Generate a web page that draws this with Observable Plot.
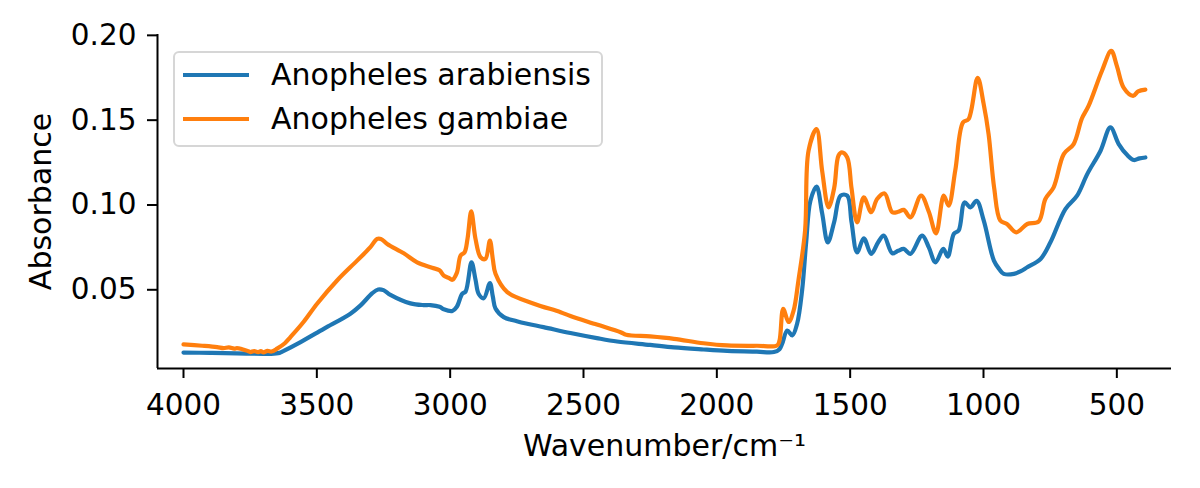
<!DOCTYPE html>
<html>
<head>
<meta charset="utf-8">
<script src="https://cdn.jsdelivr.net/npm/d3@7"></script>
<script src="https://cdn.jsdelivr.net/npm/@observablehq/plot@0.6"></script>
<style>
  html, body { margin: 0; padding: 0; background: #fff; }
  #wrap { position: relative; width: 1200px; height: 488px; font-family: "DejaVu Sans", sans-serif; }
  #legend { position: absolute; left: 173px; top: 51px; width: 430px; height: 96px;
    border: 2px solid #d6d6d6; border-radius: 6px; background: rgba(255,255,255,0.8); box-sizing: border-box; }
  .row { position: absolute; left: 0; height: 44px; }
  .sw { position: absolute; left: 8px; width: 66px; height: 4px; }
  .lab { position: absolute; left: 96px; font-size: 30px; white-space: nowrap; color: #000; line-height: 44px; }
</style>
</head>
<body>
<div id="wrap"></div>
<script>
const seriesNames = ["Anopheles arabiensis", "Anopheles gambiae"];
const seriesColors = ["#1f77b4", "#ff7f0e"];

const arabiensisWn = [4000,3900,3800,3700,3674,3640,3624,3561,3474,3374,3336,3292,3270,3250,3224,3149,3100,3074,3040,3024,2992,2975,2955,2942,2920,2905,2893,2874,2851,2840,2830,2799,2750,2711,2650,2549,2450,2374,2250,2161,2050,1961,1850,1786,1765,1755,1736,1717,1699,1680,1665,1649,1626,1605,1584,1560,1536,1511,1495,1474,1449,1421,1395,1374,1342,1320,1299,1274,1230,1205,1180,1151,1134,1111,1093,1071,1049,1026,999,961,940,924,886,860,836,786,749,693,649,611,561,524,493,461,436,415,393];
const arabiensisAbs = [0.0130,0.0128,0.0125,0.0122,0.0122,0.0128,0.0140,0.0192,0.0270,0.0359,0.0408,0.0480,0.0502,0.0498,0.0470,0.0420,0.0410,0.0410,0.0400,0.0385,0.0375,0.0400,0.0476,0.0490,0.0662,0.0560,0.0475,0.0450,0.0539,0.0460,0.0390,0.0339,0.0315,0.0300,0.0280,0.0245,0.0215,0.0195,0.0175,0.0160,0.0148,0.0140,0.0135,0.0133,0.0150,0.0182,0.0260,0.0231,0.0300,0.0500,0.0780,0.1025,0.1108,0.0950,0.0780,0.0900,0.1055,0.1055,0.0900,0.0721,0.0804,0.0712,0.0780,0.0819,0.0715,0.0730,0.0741,0.0712,0.0819,0.0750,0.0662,0.0741,0.0696,0.0830,0.0850,0.1015,0.0986,0.1025,0.0908,0.0672,0.0620,0.0594,0.0594,0.0610,0.0633,0.0682,0.0780,0.0976,0.1055,0.1182,0.1320,0.1457,0.1359,0.1294,0.1265,0.1275,0.1280];

const gambiaeWn = [4000,3930,3874,3850,3830,3810,3800,3780,3760,3749,3735,3720,3710,3700,3685,3670,3649,3620,3599,3550,3499,3424,3349,3300,3274,3260,3236,3174,3124,3068,3040,3024,3005,2992,2975,2961,2946,2935,2921,2905,2886,2868,2851,2840,2830,2786,2686,2586,2549,2450,2361,2340,2250,2161,2050,1961,1850,1774,1765,1751,1731,1712,1694,1669,1656,1626,1605,1581,1560,1544,1531,1511,1495,1474,1449,1421,1399,1371,1342,1320,1299,1274,1234,1205,1178,1149,1131,1106,1077,1056,1022,1000,981,960,937,912,877,836,793,768,737,699,662,631,606,556,521,500,474,439,420,393];
const gambiaeAbs = [0.0178,0.0170,0.0162,0.0156,0.0160,0.0153,0.0156,0.0150,0.0140,0.0133,0.0139,0.0132,0.0138,0.0131,0.0140,0.0136,0.0153,0.0185,0.0221,0.0310,0.0418,0.0555,0.0672,0.0750,0.0800,0.0800,0.0770,0.0715,0.0662,0.0630,0.0615,0.0584,0.0570,0.0559,0.0600,0.0702,0.0721,0.0800,0.0962,0.0800,0.0692,0.0682,0.0790,0.0680,0.0594,0.0486,0.0418,0.0368,0.0345,0.0295,0.0250,0.0235,0.0225,0.0211,0.0185,0.0172,0.0170,0.0172,0.0200,0.0388,0.0310,0.0378,0.0555,0.0850,0.1320,0.1447,0.1200,0.0986,0.1100,0.1290,0.1310,0.1280,0.1100,0.0898,0.1045,0.0957,0.1035,0.1068,0.0957,0.0960,0.0971,0.0927,0.1055,0.0960,0.0833,0.1055,0.0996,0.1202,0.1486,0.1506,0.1750,0.1600,0.1418,0.1100,0.0908,0.0888,0.0839,0.0888,0.0903,0.1035,0.1104,0.1300,0.1359,0.1510,0.1584,0.1790,0.1908,0.1820,0.1690,0.1643,0.1670,0.1680];

const xTicks = [4000, 3500, 3000, 2500, 2000, 1500, 1000, 500];
const yTicks = [0.05, 0.10, 0.15, 0.20];
const xDomain = [4097.5, 295];
const yDomain = [0.0036, 0.2005];
const xLabel = "Wavenumber/cm\u207B\u00B9";
const yLabel = "Absorbance";

const arabiensis = arabiensisWn.map((w, i) => ({wn: w, abs: arabiensisAbs[i], s: seriesNames[0]}));
const gambiae = gambiaeWn.map((w, i) => ({wn: w, abs: gambiaeAbs[i], s: seriesNames[1]}));

const chart = Plot.plot({
  width: 1200,
  height: 488,
  marginLeft: 157,
  marginRight: 29,
  marginTop: 34,
  marginBottom: 120,
  style: {fontFamily: "DejaVu Sans", fontSize: "29px", color: "#000", background: "transparent"},
  x: {domain: xDomain},
  y: {domain: yDomain},
  marks: [
    Plot.line(arabiensis, {x: "wn", y: "abs", stroke: seriesColors[0], strokeWidth: 4.2, curve: "catmull-rom"}),
    Plot.line(gambiae, {x: "wn", y: "abs", stroke: seriesColors[1], strokeWidth: 4.2, curve: "catmull-rom"}),
    Plot.ruleX([xDomain[0]], {stroke: "#000", strokeWidth: 2}),
    Plot.ruleY([yDomain[0]], {stroke: "#000", strokeWidth: 2}),
    Plot.axisX({ticks: xTicks, tickSize: 10, tickPadding: 16, strokeWidth: 2, fontSize: 29.5, label: null, tickFormat: d => String(d)}),
    Plot.axisY({ticks: yTicks, tickSize: 10, tickPadding: 11, strokeWidth: 2, fontSize: 29.5, label: null, tickFormat: d3.format(".2f")}),
    Plot.text([xLabel], {frameAnchor: "bottom", textAnchor: "middle", lineAnchor: "bottom", dy: 87, fontSize: 30, text: d => d}),
    Plot.text([yLabel], {frameAnchor: "left", textAnchor: "middle", rotate: -90, dx: -116.6, fontSize: 30, text: d => d})
  ]
});
const wrap = document.getElementById("wrap");
wrap.appendChild(chart);

const legend = document.createElement("div");
legend.id = "legend";
seriesNames.forEach((name, i) => {
  const row = document.createElement("div");
  row.className = "row";
  row.style.top = (i * 44) + "px";
  const sw = document.createElement("div");
  sw.className = "sw";
  sw.style.background = seriesColors[i];
  sw.style.top = "20px";
  const lab = document.createElement("div");
  lab.className = "lab";
  lab.style.top = "0px";
  lab.textContent = name;
  row.appendChild(sw);
  row.appendChild(lab);
  legend.appendChild(row);
});
wrap.appendChild(legend);
</script>
</body>
</html>
